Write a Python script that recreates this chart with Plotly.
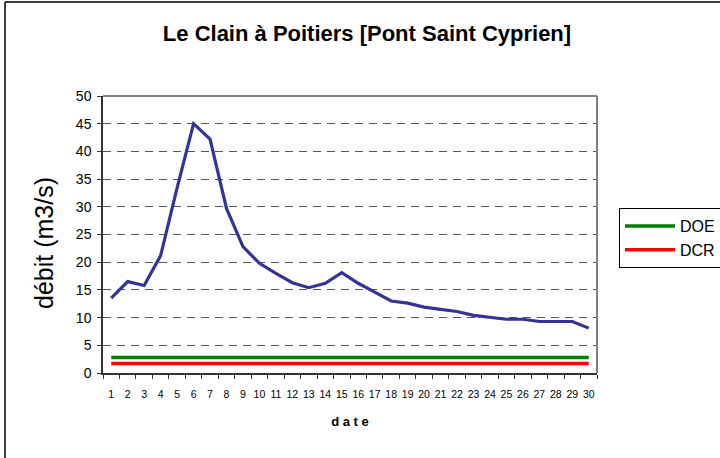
import plotly.graph_objects as go

dates = [str(i) for i in range(1, 31)]
debit = [13.5, 16.5, 15.8, 21.2, 33.4, 45.0, 42.2, 29.7, 22.8, 19.8,
         18.0, 16.3, 15.4, 16.2, 18.1, 16.2, 14.6, 13.0, 12.6, 11.9,
         11.5, 11.1, 10.4, 10.1, 9.7, 9.7, 9.3, 9.3, 9.3, 8.1]
doe = [2.8] * 30
dcr = [1.7] * 30

FONT = "Liberation Sans, Arial, sans-serif"

fig = go.Figure()
fig.add_trace(go.Scatter(x=dates, y=debit, mode="lines", name="débit",
                         line=dict(color="#333399", width=3.2), showlegend=False))
fig.add_trace(go.Scatter(x=dates, y=doe, mode="lines", name="DOE",
                         line=dict(color="#008000", width=3.5)))
fig.add_trace(go.Scatter(x=dates, y=dcr, mode="lines", name="DCR",
                         line=dict(color="#FF0000", width=3.5)))

W, H = 720, 458
L, R, T, B = 103, 597, 96, 373
pw, ph = R - L, B - T

def px(x):
    return (x - L) / pw

def py(y):
    return (B - y) / ph

fig.update_layout(
    width=W, height=H,
    margin=dict(l=L, r=W - R, t=T, b=H - B, pad=0, autoexpand=False),
    paper_bgcolor="white", plot_bgcolor="white",
    font=dict(family=FONT, color="black"),
    title=dict(text="<b>Le Clain à Poitiers [Pont Saint Cyprien]</b>",
               x=367 / W, xref="container", xanchor="center",
               y=1 - 33 / H, yref="container", yanchor="middle",
               font=dict(size=22, family=FONT)),
    legend=dict(x=px(619), y=py(208), xanchor="left", yanchor="top",
                bordercolor="black", borderwidth=1, bgcolor="white",
                font=dict(size=16, family=FONT),
                itemwidth=50, tracegroupgap=0),
    xaxis=dict(type="category", tickson="boundaries", ticks="outside",
               ticklen=4, tickcolor="#333", showline=True, linecolor="#333",
               linewidth=1.5, mirror=False, showgrid=False,
               tickangle=0,
               tickfont=dict(size=10.5, family=FONT),
               ticklabelstandoff=11,
               title=dict(text="<b>d a t e</b>", font=dict(size=13, family=FONT),
                          standoff=18),
               range=[-0.5, 29.5]),
    yaxis=dict(range=[0, 50], dtick=5, ticks="outside", ticklen=4,
               tickcolor="#333", showline=True, linecolor="#333", linewidth=1.5,
               showgrid=True, gridcolor="#555", griddash="8px,6px", gridwidth=1,
               tickfont=dict(size=14, family=FONT),
               ticklabelstandoff=3,
               zeroline=False),
    annotations=[
        dict(text="débit (m3/s)", xref="paper", yref="paper",
             x=px(44), y=py(243), xanchor="center", yanchor="middle",
             textangle=-90, showarrow=False,
             font=dict(size=25, family=FONT)),
    ],
    shapes=[
        dict(type="line", xref="paper", yref="paper", x0=0, x1=1, y0=1, y1=1,
             line=dict(color="#808080", width=2)),
        dict(type="line", xref="paper", yref="paper", x0=1, x1=1, y0=0, y1=1,
             line=dict(color="#808080", width=2)),
        dict(type="line", xref="paper", yref="paper", x0=px(5), x1=px(5),
             y0=py(H + 5), y1=py(2), line=dict(color="black", width=1.5)),
        dict(type="line", xref="paper", yref="paper", x0=px(5), x1=px(W + 5),
             y0=py(2), y1=py(2), line=dict(color="black", width=1.5)),
    ],
)

fig.write_html("out.html", config={"displayModeBar": False},
               post_script="document.body.style.margin='0';document.body.style.padding='0';")
